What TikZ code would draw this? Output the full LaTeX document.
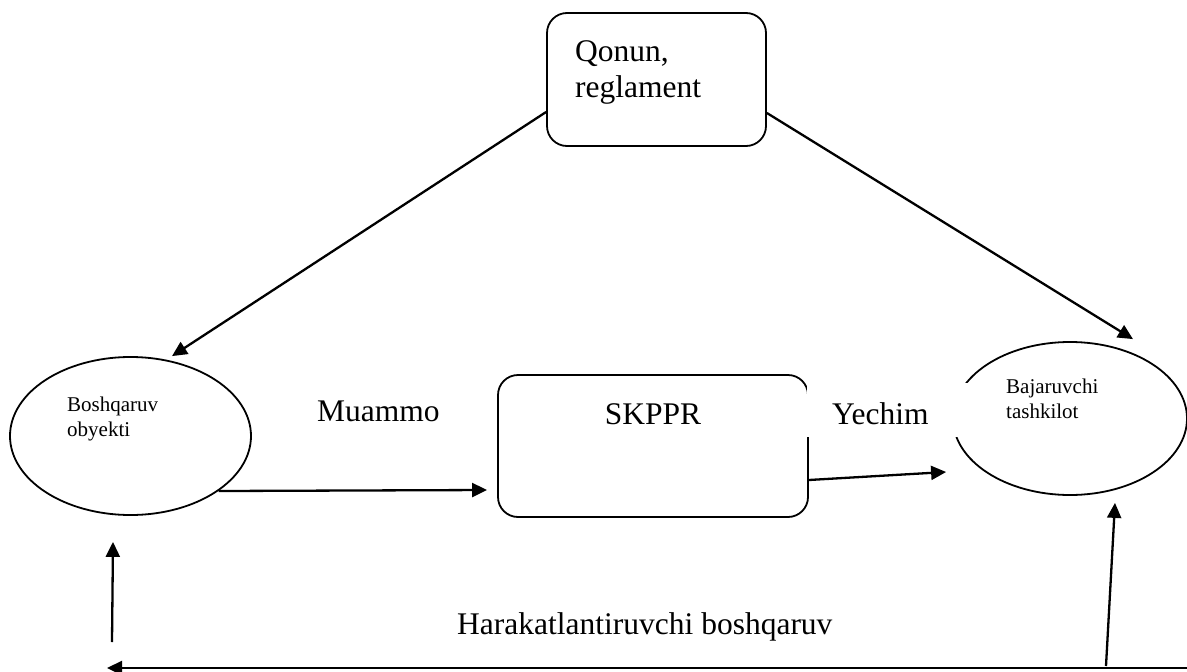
\documentclass[tikz,border=0pt]{standalone}
\usepackage{fontspec}
\setmainfont{Liberation Serif}
\usetikzlibrary{arrows.meta,shapes.geometric}
\begin{document}
\begin{tikzpicture}[x=1pt,y=-1pt,
  shapeline/.style={draw=black, line width=1.8pt},
  roundbox/.style={shapeline, rectangle, rounded corners=20pt, inner sep=0pt},
  oval/.style={shapeline, ellipse, inner sep=0pt},
  bigtext/.style={font=\fontsize{31.5}{36}\selectfont, inner sep=0pt},
  smalltext/.style={font=\fontsize{21}{24.5}\selectfont, inner sep=0pt, align=left},
  link/.style={draw=black, line width=2.3pt, -{Triangle[length=15pt,width=14pt]}},
]
\useasboundingbox (0,0) rectangle (1187,672);

% boxes and ovals
\node[roundbox, minimum width=219pt, minimum height=133pt] (qonun) at (656.5,79.5) {};
\node[roundbox, minimum width=310pt, minimum height=142pt] (skppr) at (653,446) {};
\node[oval, minimum width=241pt, minimum height=158pt] (boshq) at (130.5,436) {};
\node[oval, minimum width=234pt, minimum height=153pt] (bajar) at (1070,418.5) {};

% texts
\node[bigtext, anchor=north west, align=left] (qtext) at (575,40) {Qonun,\\reglament};
\node[bigtext, anchor=base] (stext) at ([yshift=22pt]skppr.center) {SKPPR};
\node[smalltext, anchor=north west] (btext) at (67,397) {Boshqaruv\\obyekti};
\node[smalltext, anchor=north west] (jtext) at (1006,379) {Bajaruvchi\\tashkilot};
\node[bigtext, anchor=base west] (muammo) at (317,421) {Muammo};
\node[bigtext, anchor=base west] (harakat) at (457,634) {Harakatlantiruvchi boshqaruv};
\node[bigtext, fill=white, inner xsep=25pt, inner ysep=0pt, text width=120pt, align=left,
      text height=28pt, text depth=0pt, minimum height=54pt] (yechim) at (892,410) {Yechim};

% connectors
\draw[link] ([yshift=-32.5pt]qonun.west) -- ([xshift=41.5pt]boshq.north);
\draw[link] ([yshift=-33.5pt]qonun.east) -- ([xshift=63pt,yshift=2pt]bajar.north);
\draw[link] (boshq.-32) -- ([xshift=-10pt,yshift=-44pt]skppr.west);
\draw[link] ([yshift=-34pt]skppr.east) -- ([xshift=-6pt,yshift=-53.5pt]bajar.west);

% feedback loop along the bottom
\coordinate (rightend) at (1187,668);
\coordinate (leftend) at (107,668);
\coordinate (leftfoot) at (112,642);
\coordinate (rightfoot) at (1106,666);
\draw[link] (rightend) -- (leftend);
\draw[link] (leftfoot) -- ([xshift=-17.5pt,yshift=-26pt]boshq.south);
\draw[link] (rightfoot) -- ([xshift=45pt,yshift=-7pt]bajar.south);
\end{tikzpicture}
\end{document}
